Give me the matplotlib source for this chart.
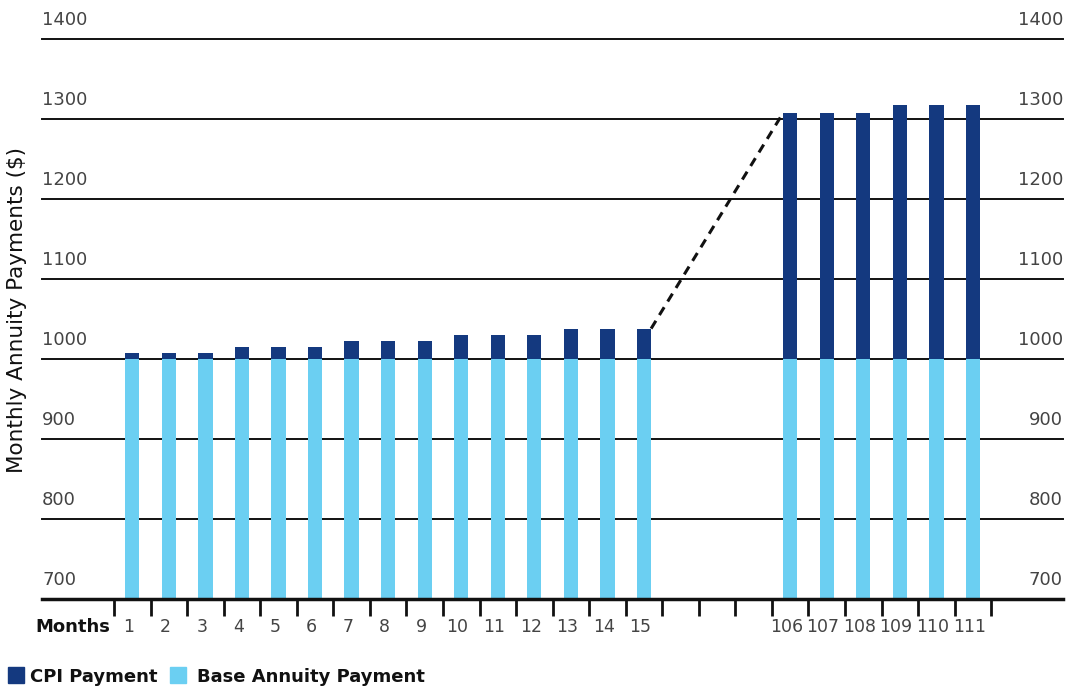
import matplotlib
matplotlib.use("Agg")
import matplotlib.pyplot as plt
from matplotlib.patches import Rectangle

months = ["1", "2", "3", "4", "5", "6", "7", "8", "9", "10", "11", "12", "13", "14", "15",
          "106", "107", "108", "109", "110", "111"]
slots = [0, 1, 2, 3, 4, 5, 6, 7, 8, 9, 10, 11, 12, 13, 14, 18, 19, 20, 21, 22, 23]
base_payment = [1000] * 21
total_payment = [1007.5, 1007.5, 1007.5, 1015, 1015, 1015, 1022.5, 1022.5, 1022.5,
                 1030, 1030, 1030, 1038, 1038, 1038,
                 1307.5, 1307.5, 1307.5, 1317.5, 1317.5, 1317.5]
cpi_payment = [t - b for t, b in zip(total_payment, base_payment)]
y_ticks = [700, 800, 900, 1000, 1100, 1200, 1300, 1400]
n_ticks = 25

DARK = "#14397F"
LIGHT = "#6BCFF2"
TXT = "#444444"

plt.rcParams['font.family'] = ['DejaVu Sans']
W, H = 1066, 689
fig = plt.figure(figsize=(W / 100, H / 100), dpi=100)
ax = fig.add_axes([42 / W, 1 - 599 / H, (1063 - 42) / W, (599 - 39) / H])

sp = 36.55
x0 = -(114 - 42) / sp
x1 = x0 + (1063 - 42) / sp
ax.set_xlim(x0, x1)
ax.set_ylim(700, 1400)

xs = [s + 0.5 for s in slots]
bw = 0.39
ax.bar(xs, [b - 700 for b in base_payment], bottom=700, width=bw, color=LIGHT, zorder=2)
ax.bar(xs, cpi_payment, bottom=base_payment, width=bw, color=DARK, zorder=2)

ytr = ax.get_yaxis_transform()
for yv in y_ticks:
    if yv > 700:
        ax.axhline(yv, color="#111111", lw=1.4, zorder=1, clip_on=False)
    ax.text(0, yv + 12, str(yv), transform=ytr, ha="left", va="bottom",
            fontsize=13, color=TXT)
    ax.text(1.0, yv + 12, str(yv), transform=ytr, ha="right", va="bottom",
            fontsize=13, color=TXT)

ax.axhline(700, color="#111111", lw=2.5, zorder=3, clip_on=False)

# dashed connector between last early bar and first late bar
i15 = 14
i106 = 15
ax.plot([xs[i15] + bw / 2, xs[i106] - bw / 2], [total_payment[i15], total_payment[i106]],
        color="#111111", lw=2.2, ls=(0, (3, 2.2)), zorder=4)

for sp_ in ax.spines.values():
    sp_.set_visible(False)
ax.set_yticks([])
ax.set_xticks(range(n_ticks))
ax.set_xticklabels([])
ax.tick_params(axis="x", length=12, width=2, color="#111111", direction="out", pad=0)

xtr = ax.get_xaxis_transform()
ylab = -(627 - 599) / (599 - 39)
for lab, x in zip(months, xs):
    ax.text(x - 0.1, ylab, lab, ha="center", va="center", fontsize=12.5, color=TXT,
            transform=xtr, clip_on=False)
fig.text(35 / W, 1 - 627 / H, "Months", ha="left", va="center", fontsize=13,
         fontweight="bold", color="#111111")

fig.text(17 / W, 1 - 310 / H, "Monthly Annuity Payments ($)", rotation=90, ha="center",
         va="center", fontsize=15.5, color="#111111")

# legend
fig.patches.append(Rectangle((8 / W, 1 - 683 / H), 16 / W, 16 / H, transform=fig.transFigure,
                             color=DARK))
fig.text(30 / W, 1 - 677 / H, "CPI Payment", ha="left", va="center", fontsize=13,
         fontweight="bold", color="#111111")
fig.patches.append(Rectangle((170 / W, 1 - 683 / H), 16 / W, 16 / H, transform=fig.transFigure,
                             color=LIGHT))
fig.text(197 / W, 1 - 677 / H, "Base Annuity Payment", ha="left", va="center", fontsize=13,
         fontweight="bold", color="#111111")

fig.savefig("out.png", dpi=100)
